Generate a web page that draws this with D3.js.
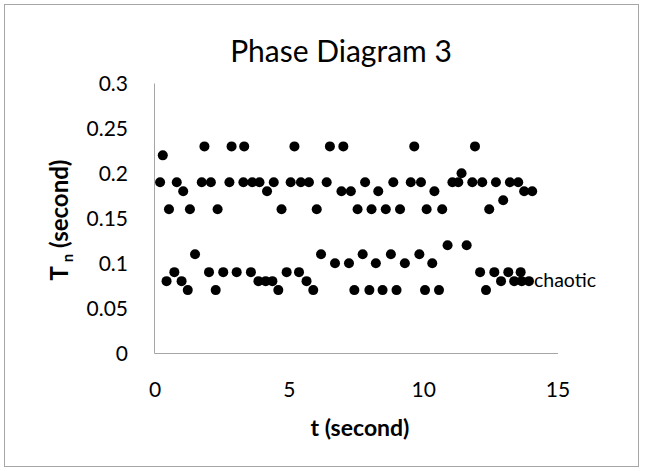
<!DOCTYPE html>
<html><head><meta charset="utf-8">
<script src="https://cdn.jsdelivr.net/npm/d3@7"></script>
<style>body{margin:0;background:#fff}svg{display:block}text{font-family:Lato,"Open Sans",sans-serif;fill:#000}</style>
</head><body><svg id="c" width="646" height="471"></svg>
<script>
const tHigh = [0.19,0.29,0.52,0.81,1.05,1.30,1.74,1.84,2.08,2.33,2.77,2.85,3.29,3.32,3.62,3.89,4.17,4.42,4.71,5.05,5.19,5.43,5.73,6.02,6.39,6.51,6.94,7.01,7.29,7.54,7.82,8.06,8.31,8.59,8.87,9.12,9.52,9.65,9.90,10.11,10.40,10.69,11.07,11.29,11.41,11.81,11.91,12.18,12.44,12.69,12.96,13.21,13.52,13.74,14.04];
const THigh = [0.19,0.22,0.16,0.19,0.18,0.16,0.19,0.23,0.19,0.16,0.19,0.23,0.19,0.23,0.19,0.19,0.18,0.19,0.16,0.19,0.23,0.19,0.19,0.16,0.19,0.23,0.18,0.23,0.18,0.16,0.19,0.16,0.18,0.16,0.19,0.16,0.19,0.23,0.19,0.16,0.18,0.16,0.19,0.19,0.20,0.19,0.23,0.19,0.16,0.19,0.17,0.19,0.19,0.18,0.18];
const tLow = [0.43,0.72,0.99,1.22,1.49,2.01,2.26,2.54,3.04,3.57,3.85,4.12,4.37,4.59,4.90,5.36,5.64,5.89,6.18,6.70,7.22,7.42,7.73,7.98,8.22,8.47,8.78,8.99,9.30,9.84,10.05,10.32,10.57,10.89,11.60,12.10,12.32,12.63,12.88,13.15,13.37,13.61,13.65,13.92];
const TLow = [0.08,0.09,0.08,0.07,0.11,0.09,0.07,0.09,0.09,0.09,0.08,0.08,0.08,0.07,0.09,0.09,0.08,0.07,0.11,0.10,0.10,0.07,0.11,0.07,0.10,0.07,0.11,0.07,0.10,0.11,0.07,0.10,0.07,0.12,0.12,0.09,0.07,0.09,0.08,0.09,0.08,0.09,0.08,0.08];
const xTicks = [0,5,10,15];
const yTicks = [0,0.05,0.1,0.15,0.2,0.25,0.3];
const title = "Phase Diagram 3";
const xTitle = "t (second)";
const pointLabel = "chaotic";

const svg = d3.select("#c");
svg.append("rect").attr("x",4.5).attr("y",4.5).attr("width",634).attr("height",462)
  .attr("fill","#fff").attr("stroke","#a6a6a6").attr("stroke-width",1);

const x = d3.scaleLinear().domain([0,15]).range([155,558]);
const y = d3.scaleLinear().domain([0,0.3]).range([353,83.5]);

svg.append("line").attr("x1",x(0)-0.5).attr("x2",x(0)-0.5).attr("y1",y(0.3)).attr("y2",y(0)+0.5).attr("stroke","#a6a6a6").attr("stroke-width",1);
svg.append("line").attr("x1",x(0)-0.5).attr("x2",x(15)).attr("y1",y(0)+0.5).attr("y2",y(0)+0.5).attr("stroke","#a6a6a6").attr("stroke-width",1);

svg.append("g").selectAll("text").data(yTicks).join("text")
  .attr("x",128).attr("y",d=>y(d)).attr("dy","0.36em").attr("text-anchor","end")
  .attr("font-size",21).text(d=>d===0?"0":String(d));
svg.append("g").selectAll("text").data(xTicks).join("text")
  .attr("x",d=>x(d)).attr("y",397).attr("text-anchor","middle")
  .attr("font-size",21).text(d=>d);

svg.append("text").attr("x",341).attr("y",62).attr("text-anchor","middle").attr("font-size",30).text(title);
svg.append("text").attr("x",360).attr("y",436).attr("text-anchor","middle").attr("font-size",23).attr("font-weight","bold").text(xTitle);
const yt = svg.append("text").attr("transform","translate(68,220) rotate(-90)").attr("text-anchor","middle").attr("font-size",24).attr("font-weight","bold");
yt.append("tspan").text("T");
yt.append("tspan").attr("font-size",15).attr("dy",5).text(" n");
yt.append("tspan").attr("dy",-5).text(" (second)");

const pts = tHigh.map((t,i)=>({t,T:THigh[i]})).concat(tLow.map((t,i)=>({t,T:TLow[i]})));
svg.append("g").selectAll("circle").data(pts).join("circle")
  .attr("cx",d=>x(d.t)).attr("cy",d=>y(d.T)).attr("r",5).attr("fill","#000");

const last = pts[pts.length-1];
svg.append("text").attr("x",x(last.t)+5).attr("y",y(last.T)).attr("dy","0.3em").attr("font-size",19.5).text(pointLabel);
</script></body></html>
